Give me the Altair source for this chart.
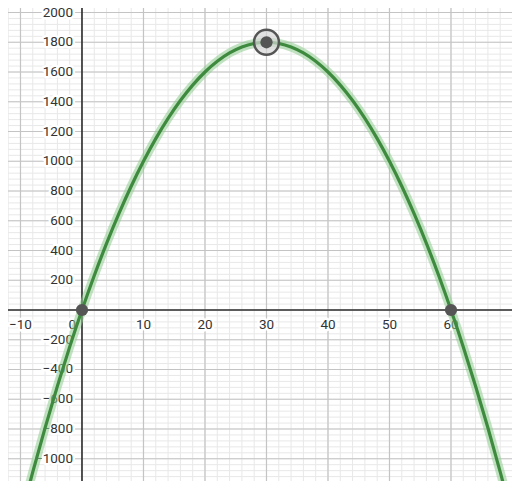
import altair as alt
import pandas as pd

# curve samples
curve_x = [-12, -10, -8, -6, -4, -2, 0, 2, 4, 6, 8, 10, 12, 14, 16, 18, 20, 22, 24, 26, 28,
           30, 32, 34, 36, 38, 40, 42, 44, 46, 48, 50, 52, 54, 56, 58, 60, 62, 64, 66, 68, 70, 72]
curve_y = [-1728, -1400, -1088, -792, -512, -248, 0, 232, 448, 648, 832, 1000, 1152, 1288, 1408,
           1512, 1600, 1672, 1728, 1768, 1792, 1800, 1792, 1768, 1728, 1672, 1600, 1512, 1408,
           1288, 1152, 1000, 832, 648, 448, 232, 0, -248, -512, -792, -1088, -1400, -1728]

# special points
pt_x = [0, 30, 60]
pt_y = [0, 1800, 0]
vertex_x = [30]
vertex_y = [1800]

# axis ticks / labels
x_major = [-10, 0, 10, 20, 30, 40, 50, 60]
x_labels = ["−10", "0", "10", "20", "30", "40", "50", "60"]
y_major = [-1200, -1000, -800, -600, -400, -200, 200, 400, 600, 800, 1000, 1200, 1400, 1600, 1800, 2000]
y_labels = ["−1200", "−1000", "−800", "−600", "−400", "−200", "200", "400", "600", "800",
            "1000", "1200", "1400", "1600", "1800", "2000"]
x_minor = list(range(-12, 72, 2))
y_minor = list(range(-1200, 2080, 40))

XDOM = [-12.03, 69.92]
YDOM = [-1149.6, 2030.3]
xs = alt.Scale(domain=XDOM, nice=False, zero=False)
ys = alt.Scale(domain=YDOM, nice=False, zero=False)

curve = pd.DataFrame({"x": curve_x, "y": curve_y})
pts = pd.DataFrame({"x": pt_x, "y": pt_y})
vert = pd.DataFrame({"x": vertex_x, "y": vertex_y})
xmin = pd.DataFrame({"x": x_minor})
ymin = pd.DataFrame({"y": y_minor})
xmaj = pd.DataFrame({"x": x_major, "lab": x_labels})
ymaj = pd.DataFrame({"y": y_major, "lab": y_labels})
xmaj_grid = pd.DataFrame({"x": [v for v in x_major if v != 0]})
ymaj_grid = pd.DataFrame({"y": [v for v in y_major]})
zero = pd.DataFrame({"v": [0]})

X = lambda f="x": alt.X(f"{f}:Q", scale=xs, axis=None)
Y = lambda f="y": alt.Y(f"{f}:Q", scale=ys, axis=None)
ZX = alt.X("z:Q", scale=xs, axis=None)
ZY = alt.Y("z:Q", scale=ys, axis=None)

minor_v = alt.Chart(xmin).mark_rule(color="#e8e8e8", strokeWidth=1).encode(x=X())
minor_h = alt.Chart(ymin).mark_rule(color="#e8e8e8", strokeWidth=1, clip=True).encode(y=Y())
major_v = alt.Chart(xmaj_grid).mark_rule(color="#c4c4c4", strokeWidth=1.2).encode(x=X())
major_h = alt.Chart(ymaj_grid).mark_rule(color="#c4c4c4", strokeWidth=1.2, clip=True).encode(y=Y())
axis_x = alt.Chart(zero).mark_rule(color="#2a2a2a", strokeWidth=1.6).encode(y=Y("v"))
axis_y = alt.Chart(zero).mark_rule(color="#2a2a2a", strokeWidth=1.6).encode(x=X("v"))

LBL = dict(fontSize=13.5, font="Roboto")


def labels(color, halo_stroke):
    extra = dict(stroke="white", strokeWidth=5, strokeJoin="round") if halo_stroke else {}
    yl = alt.Chart(ymaj).mark_text(align="right", baseline="middle", dx=-9, color=color, clip=True,
                                   **LBL, **extra).encode(y=Y(), x=ZX, text="lab:N").transform_calculate(z="0")
    xl = alt.Chart(xmaj[xmaj.x != 0]).mark_text(align="center", baseline="middle", dy=15, color=color,
                                                **LBL, **extra).encode(x=X(), y=ZY, text="lab:N").transform_calculate(z="0")
    x0 = alt.Chart(xmaj[xmaj.x == 0]).mark_text(align="right", baseline="middle", dx=-6, dy=15, color=color,
                                                **LBL, **extra).encode(x=X(), y=ZY, text="lab:N").transform_calculate(z="0")
    return [yl, xl, x0]


halo_lbl = labels("white", True)
txt_lbl = labels("#333333", False)

halo = alt.Chart(curve).mark_line(color="#8fcc8f", strokeWidth=9, opacity=0.55, interpolate="natural",
                                  clip=True).encode(x=X(), y=Y())
line = alt.Chart(curve).mark_line(color="#3e8a3e", strokeWidth=3.2, interpolate="natural",
                                  clip=True).encode(x=X(), y=Y())
ring = alt.Chart(vert).mark_point(shape="circle", size=620, filled=True, fill="#d6d6d6", fillOpacity=0.7,
                                  stroke="#555555", strokeWidth=2.5).encode(x=X(), y=Y())
dots = alt.Chart(pts).mark_point(shape="circle", size=150, filled=True, color="#555555", opacity=1).encode(x=X(), y=Y())

chart = alt.layer(minor_v, minor_h, major_v, major_h, axis_x, axis_y,
                  *halo_lbl, *txt_lbl, halo, line, ring, dots).properties(
    width=504, height=473, padding=0,
    autosize=alt.AutoSizeParams(type="none"),
    background="white"
).configure_view(strokeWidth=0)

chart.save("out.html", embed_options={"renderer": "svg", "actions": False})
